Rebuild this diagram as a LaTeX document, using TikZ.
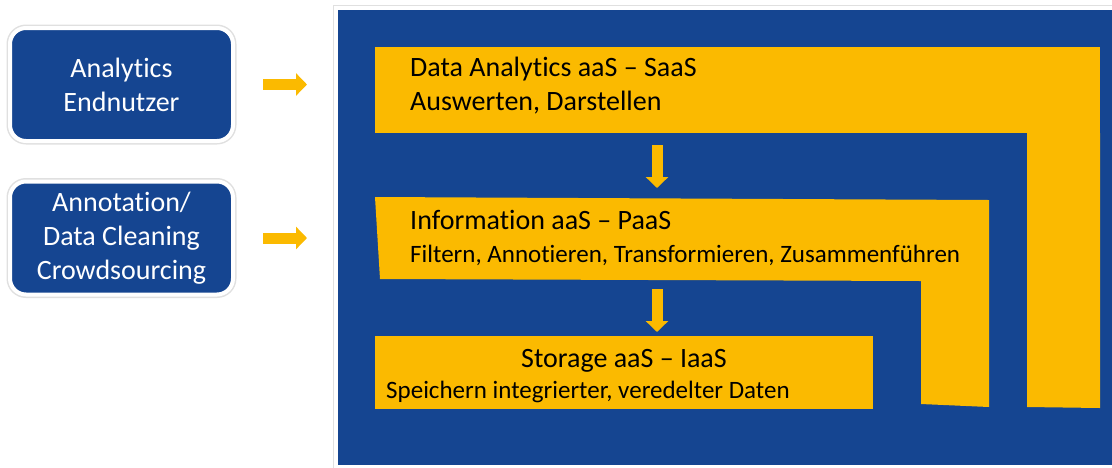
\documentclass[tikz,border=0pt]{standalone}
\usepackage{fontspec}
\usepackage{xcolor}
\setmainfont{Carlito}[Ligatures=NoCommon]
\usetikzlibrary{arrows.meta,positioning}

\definecolor{panelblue}{RGB}{21,69,145}
\definecolor{layeryellow}{RGB}{251,186,0}

\begin{document}
\begin{tikzpicture}[x=1pt,y=-1pt,
    userbox/.style={rectangle, rounded corners=16pt, fill=panelblue, draw=white, line width=4pt,
        preaction={draw=black!12, line width=7pt}, outer sep=0pt, text=white, align=center,
        minimum width=223pt, minimum height=113pt, font=\fontsize{28}{34}\selectfont},
    layer/.style={rectangle, fill=layeryellow, draw=none, outer sep=0pt, inner sep=0pt},
    bigtext/.style={inner sep=0pt, font=\fontsize{28}{34}\selectfont},
    smalltext/.style={inner sep=0pt, font=\fontsize{25}{30}\selectfont},
    flowarrow/.style={draw=layeryellow, line width=11pt, -{Triangle[width=22pt,length=11pt]}}]
    \tikzstyle{every node}=[text=black]

    \useasboundingbox (0,0) rectangle (1112,467);

    % left side
    \node[userbox] (endnutzer) at (121.5,84.5) {Analytics\\Endnutzer};
    \node[userbox] (crowd) at (121.5,238) {Annotation/\\Data Cleaning\\Crowdsourcing};

    % cloud panel
    \node[rectangle, fill=panelblue, draw=white, line width=4pt, preaction={draw=black!12, line width=7pt},
          outer sep=0pt, minimum width=780pt, minimum height=459pt, anchor=north west] (cloud) at (336,8) {};

    \draw[flowarrow, shorten <=30pt, shorten >=29pt] (endnutzer.east) -- (cloud.west |- endnutzer.east);
    \draw[flowarrow, shorten <=30pt, shorten >=29pt] (crowd.east) -- (cloud.west |- crowd.east);

    % layers
    \node[layer, minimum width=725pt, minimum height=86pt, anchor=north west] (saas) at (375,47) {};
    \fill[layeryellow] (saas.south east) -- (1100,408) -- (1027,407) -- (1027,133) -- cycle;
    \fill[layeryellow] (375,197) -- (989,200) -- (989,407) -- (921,404) -- (921,281) -- (380,279) -- cycle;
    \node[layer, minimum width=498pt, minimum height=73pt, anchor=north west] (iaas) at (375,336) {};

    \coordinate (paastop) at (657,198);
    \coordinate (paasbot) at (657,280);

    \node[bigtext, anchor=base west] (saastitle) at (410,76) {Data Analytics aaS -- SaaS};
    \node[bigtext, anchor=base west] (saasdesc) at (410,110) {Auswerten, Darstellen};
    \node[bigtext, anchor=base west] (paastitle) at (410,229) {Information aaS -- PaaS};
    \node[smalltext, anchor=base west] (paasdesc) at (410,262) {Filtern, Annotieren, Transformieren, Zusammenführen};
    \node[bigtext, anchor=base] (iaastitle) at (624,367) {Storage aaS -- IaaS};
    \node[smalltext, anchor=base west] (iaasdesc) at (386,398) {Speichern integrierter, veredelter Daten};

    \draw[flowarrow, shorten <=12pt, shorten >=10pt] (saas.south -| paastop) -- (paastop);
    \draw[flowarrow, shorten <=9pt, shorten >=4pt] (paasbot) -- (iaas.north -| paasbot);
\end{tikzpicture}
\end{document}
